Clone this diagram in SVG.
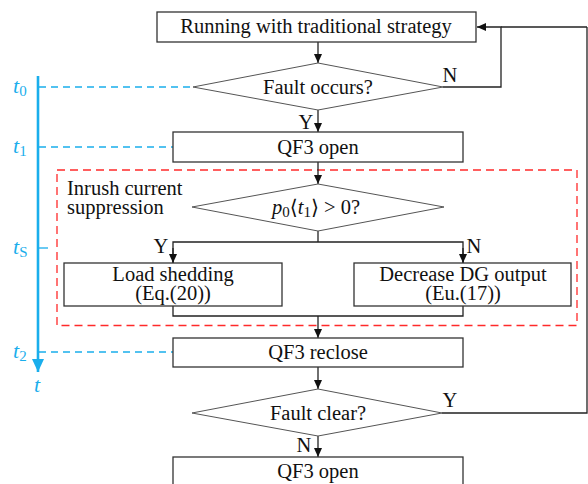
<svg xmlns="http://www.w3.org/2000/svg" width="588" height="484" viewBox="0 0 588 484">
<style>
text{font-family:'Liberation Serif','DejaVu Serif','Noto Serif',serif}
.box{fill:#fff;stroke:#333;stroke-width:1.3}
.dia{fill:#fff;stroke:#555;stroke-width:1}
.ln{fill:none;stroke:#222;stroke-width:1.3}
.t{font-size:20.5px;fill:#111;text-anchor:middle}
.tl{font-size:20.5px;fill:#111}
.bl{fill:none;stroke:#1aaeec;stroke-width:1.3;stroke-dasharray:7,5}
.bt{font-size:22px;font-style:italic;fill:#1aaeec}
.bs{font-style:normal;font-size:15px}
</style>
<defs>
<marker id="ah" markerWidth="10" markerHeight="10" refX="9" refY="5" orient="auto" markerUnits="userSpaceOnUse">
<path d="M0,1 L9,5 L0,9 z" fill="#111"/>
</marker>
<marker id="bh" markerWidth="14" markerHeight="14" refX="13" refY="7" orient="auto" markerUnits="userSpaceOnUse">
<path d="M0,1 L13,7 L0,13 z" fill="#1aaeec"/>
</marker>
</defs>

<g id="timeline">
<line x1="38" y1="76" x2="38" y2="372" stroke="#1aaeec" stroke-width="2.6" marker-end="url(#bh)"/>
<line x1="38" y1="248" x2="48" y2="248" stroke="#1aaeec" stroke-width="1.3"/>
<line class="bl" x1="39" y1="87" x2="192" y2="87"/>
<line class="bl" x1="39" y1="147" x2="173" y2="147"/>
<line class="bl" x1="39" y1="352" x2="173" y2="352"/>
<text class="bt" x="13" y="93">t<tspan class="bs" dy="3">0</tspan></text>
<text class="bt" x="13" y="153">t<tspan class="bs" dy="3">1</tspan></text>
<text class="bt" x="13" y="254">t<tspan class="bs" dy="3">S</tspan></text>
<text class="bt" x="13" y="358">t<tspan class="bs" dy="3">2</tspan></text>
<text class="bt" x="34" y="392">t</text>
</g>

<g id="region">
<rect x="57" y="170" width="520" height="155.5" fill="none" stroke="#ff2a2a" stroke-width="1.3" stroke-dasharray="8,5"/>
<text class="tl" x="67" y="195">Inrush current</text>
<text class="tl" x="67" y="214">suppression</text>
</g>

<g id="connectors">
<line class="ln" x1="318" y1="42" x2="318" y2="63" marker-end="url(#ah)"/>
<polyline class="ln" points="443,87 501,87 501,27 477,27" marker-end="url(#ah)"/>
<line class="ln" x1="501" y1="27" x2="587" y2="27"/>
<line class="ln" x1="318" y1="110" x2="318" y2="132" marker-end="url(#ah)"/>
<line class="ln" x1="318" y1="162" x2="318" y2="184" marker-end="url(#ah)"/>
<polyline class="ln" points="173,263 173,242 463,242 463,263"/>
<line class="ln" x1="318" y1="231" x2="318" y2="242"/>
<line class="ln" x1="173" y1="248" x2="173" y2="263" marker-end="url(#ah)"/>
<line class="ln" x1="463" y1="248" x2="463" y2="263" marker-end="url(#ah)"/>
<polyline class="ln" points="173,306 173,316 463,316 463,306"/>
<line class="ln" x1="318" y1="316" x2="318" y2="338" marker-end="url(#ah)"/>
<line class="ln" x1="318" y1="367" x2="318" y2="389" marker-end="url(#ah)"/>
<polyline class="ln" points="442,413 587,413 587,27"/>
<line class="ln" x1="318" y1="436" x2="318" y2="457" marker-end="url(#ah)"/>
<text class="t" x="450" y="82">N</text>
<text class="t" x="306" y="129">Y</text>
<text class="t" x="161" y="253">Y</text>
<text class="t" x="474" y="253">N</text>
<text class="t" x="450" y="407">Y</text>
<text class="t" x="304" y="452">N</text>
</g>

<g id="n1"><rect class="box" x="157" y="12" width="319" height="30"/><text class="t" x="316" y="33">Running with traditional strategy</text></g>
<g id="n2"><polygon class="dia" points="193,87 318,63 443,87 318,110"/><text class="t" x="318" y="94">Fault occurs?</text></g>
<g id="n3"><rect class="box" x="173" y="132" width="290" height="30"/><text class="t" x="318" y="154">QF3 open</text></g>
<g id="n4"><polygon class="dia" points="192,207 318,184 444,207 318,231"/><text class="t" x="316" y="214"><tspan font-style="italic">p</tspan><tspan font-size="15px" dy="3">0</tspan><tspan dy="-3">⟨</tspan><tspan font-style="italic">t</tspan><tspan font-size="15px" dy="3">1</tspan><tspan dy="-3">⟩ &gt; 0?</tspan></text></g>
<g id="n5"><rect class="box" x="64" y="263" width="218" height="43"/><text class="t" x="173" y="281">Load shedding</text><text class="t" x="173" y="300">(Eq.(20))</text></g>
<g id="n6"><rect class="box" x="354" y="263" width="217" height="43"/><text class="t" x="463" y="281">Decrease DG output</text><text class="t" x="463" y="300">(Eu.(17))</text></g>
<g id="n7"><rect class="box" x="173" y="338" width="290" height="29"/><text class="t" x="318" y="359">QF3 reclose</text></g>
<g id="n8"><polygon class="dia" points="192,413 318,389 442,413 318,436"/><text class="t" x="318" y="420">Fault clear?</text></g>
<g id="n9"><rect class="box" x="173" y="457" width="290" height="40"/><text class="t" x="318" y="478">QF3 open</text></g>
</svg>
